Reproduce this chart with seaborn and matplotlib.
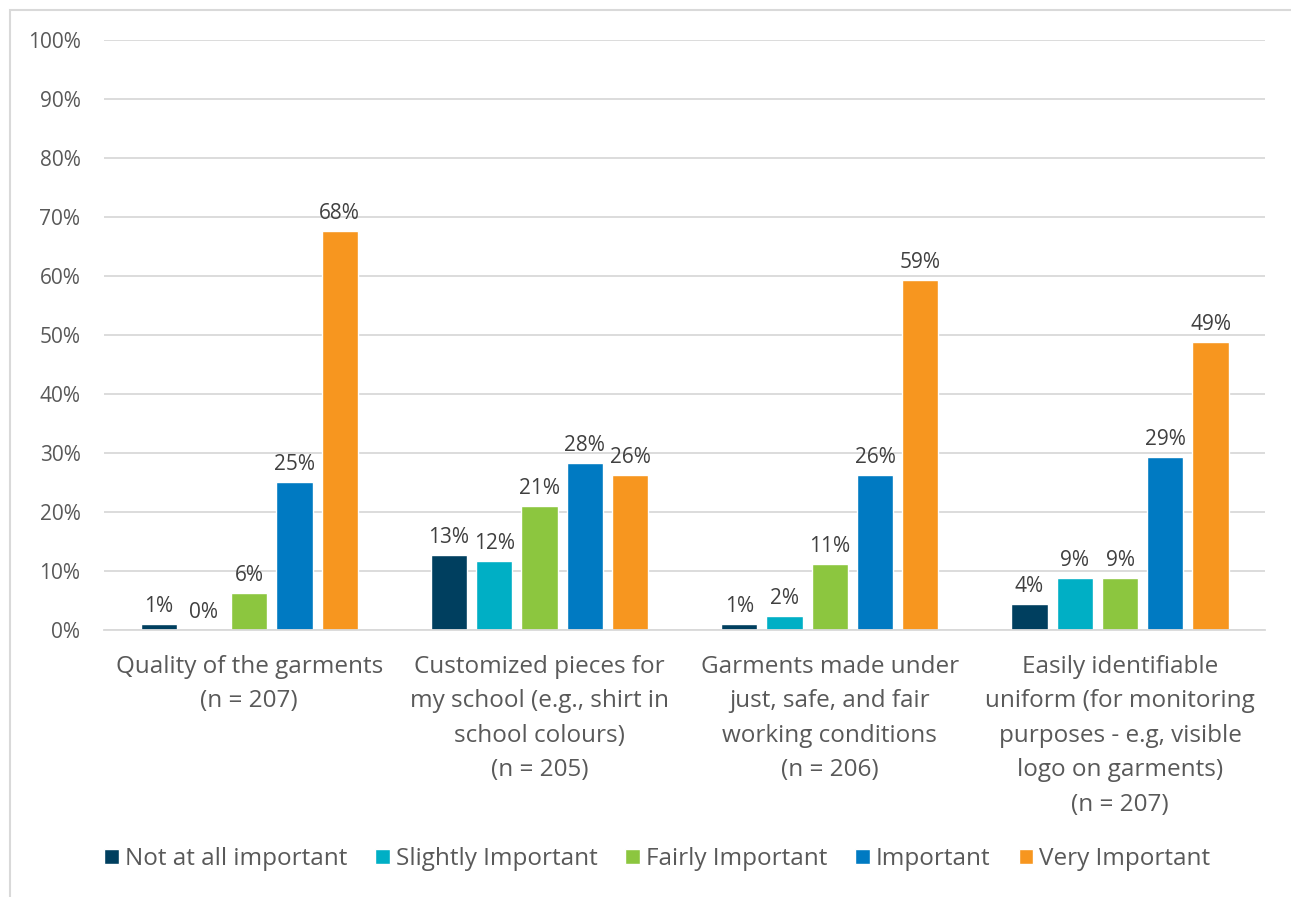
import pandas as pd
import numpy as np
import matplotlib
matplotlib.use("Agg")
import matplotlib.pyplot as plt
import seaborn as sns

# chart data
categories = [
    "Quality of the garments\n(n = 207)",
    "Customized pieces for\nmy school (e.g., shirt in\nschool colours)\n(n = 205)",
    "Garments made under\njust, safe, and fair\nworking conditions\n(n = 206)",
    "Easily identifiable\nuniform (for monitoring\npurposes - e.g, visible\nlogo on garments)\n(n = 207)",
]
levels = ["Not at all important", "Slightly Important", "Fairly Important",
          "Important", "Very Important"]
not_at_all = [1.0, 12.7, 1.0, 4.4]
slightly = [0.0, 11.7, 2.4, 8.8]
fairly = [6.3, 21.0, 11.2, 8.8]
important = [25.1, 28.3, 26.2, 29.4]
very = [67.6, 26.3, 59.3, 48.8]
colors = ["#003F5F", "#00AFC5", "#8CC63F", "#007AC2", "#F7961F"]

series = [not_at_all, slightly, fairly, important, very]
rows = []
for lvl, vals in zip(levels, series):
    for cat, v in zip(categories, vals):
        rows.append({"cat": cat, "level": lvl, "pct": v})
df = pd.DataFrame(rows)

sns.set_style("white")
plt.rcParams["font.family"] = ["Open Sans", "DejaVu Sans"]

fig = plt.figure(figsize=(12.91, 8.97), dpi=100)
ax = fig.add_axes([0.0806, 0.2977, 0.8994, 0.6577])

sns.barplot(data=df, x="cat", y="pct", hue="level", order=categories,
            hue_order=levels, palette=colors, width=0.78, gap=0.2,
            saturation=1, ax=ax, legend=True)

for container, vals in zip(ax.containers, series):
    ax.bar_label(container, labels=[f"{round(v)}%" for v in vals],
                 padding=5, fontsize=15, color="#404040")

ax.set_ylim(0, 100)
ax.set_yticks(np.arange(0, 101, 10))
ax.set_yticklabels([f"{t}%" for t in range(0, 101, 10)], fontsize=15, color="#595959")
ax.set_xlim(-0.5, 3.5)
ax.set_xticks(range(len(categories)))
ax.set_xticklabels(categories, fontsize=17.5, color="#595959", linespacing=1.58)
ax.tick_params(axis="x", length=0, pad=18)
ax.tick_params(axis="y", length=0, pad=17)
ax.set_xlabel("")
ax.set_ylabel("")
ax.yaxis.grid(True, color="#D9D9D9", linewidth=1.3)
ax.set_axisbelow(True)
for s in ["top", "right", "left"]:
    ax.spines[s].set_visible(False)
ax.spines["bottom"].set_color("#D9D9D9")
ax.spines["bottom"].set_linewidth(1.3)

handles, labels = ax.get_legend_handles_labels()
ax.legend_.remove()
fig.legend(handles, labels, loc="center", bbox_to_anchor=(0.509, 0.042), ncol=5,
           frameon=False, fontsize=17.5, handlelength=0.6, handleheight=0.6,
           handletextpad=0.25, columnspacing=1.15, labelcolor="#595959")

# chart border
fig.patches.append(plt.Rectangle((10 / 1291, -0.01), 1.0, 1 - 10 / 897 + 0.01,
                                 transform=fig.transFigure, fill=False,
                                 edgecolor="#D9D9D9", linewidth=1.5))

fig.savefig("out.png", dpi=100)
